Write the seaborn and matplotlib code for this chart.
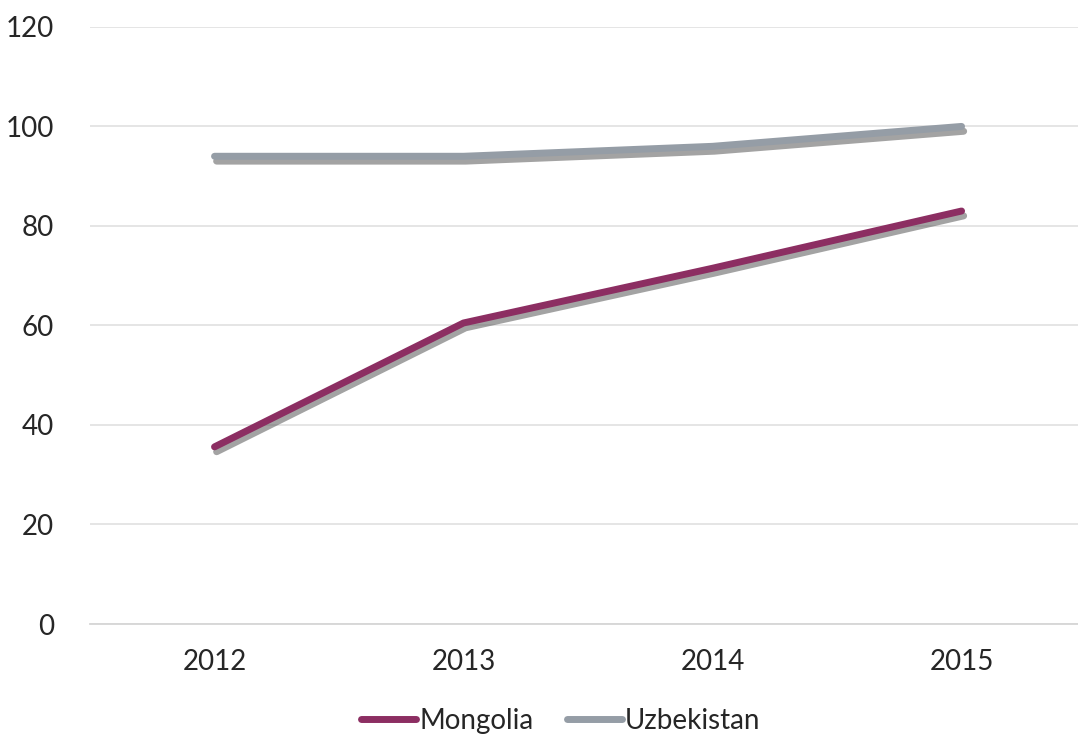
import matplotlib
matplotlib.use("Agg")
import matplotlib.pyplot as plt
import matplotlib.patheffects as pe
import seaborn as sns
import pandas as pd
from matplotlib.lines import Line2D

years = ["2012", "2013", "2014", "2015"]
mongolia = [35.6, 60.5, 71.5, 83.0]
uzbekistan = [94.0, 94.0, 96.0, 100.0]

sns.set_theme(style="white")
plt.rcParams['font.family'] = ['Lato', 'DejaVu Sans']

df = pd.DataFrame({
    "year": years * 2,
    "value": mongolia + uzbekistan,
    "country": ["Mongolia"] * 4 + ["Uzbekistan"] * 4,
})

fig = plt.figure(figsize=(10.78, 7.39), dpi=100)
ax = fig.add_axes([0.0835, 0.1556, 0.924, 0.808])

palette = {"Mongolia": "#8C2E62", "Uzbekistan": "#959DA6"}
sns.lineplot(data=df, x="year", y="value", hue="country", palette=palette,
             linewidth=5, ax=ax, legend=False, sort=False)
for ln in ax.lines:
    ln.set_solid_capstyle("round")
    ln.set_path_effects([pe.SimpleLineShadow(offset=(1.5, -3.5), shadow_color="#666666", alpha=0.6),
                         pe.Normal()])

ax.set_ylim(0, 120)
ax.set_xlim(-0.5, 3.5)
ax.set_yticks([0, 20, 40, 60, 80, 100, 120])
ax.grid(axis="y", color="#E3E3E3", linewidth=1.3)
ax.set_axisbelow(True)
for s in ["left", "right", "top"]:
    ax.spines[s].set_visible(False)
ax.spines["bottom"].set_color("#D6D6D6")
ax.spines["bottom"].set_linewidth(1.3)
ax.set_xlabel("")
ax.set_ylabel("")
ax.tick_params(axis="y", length=0, pad=26, labelsize=20, labelcolor="#262626")
ax.tick_params(axis="x", length=0, pad=18, labelsize=20, labelcolor="#262626")
ax.set_xticks([-0.5, 0.5, 1.5, 2.5, 3.5], minor=True)
ax.tick_params(axis="x", which="minor", length=8, color="#D6D6D6", width=1.3, direction="out")

handles = [Line2D([0], [0], color=palette[c], lw=5, solid_capstyle="round") for c in ["Mongolia", "Uzbekistan"]]
fig.legend(handles, ["Mongolia", "Uzbekistan"], loc="center", bbox_to_anchor=(0.52, 0.025),
           ncol=2, frameon=False, fontsize=20, handlelength=2.0, handletextpad=0.1,
           columnspacing=1.2, labelcolor="#262626")

fig.savefig("out.png", dpi=100)
